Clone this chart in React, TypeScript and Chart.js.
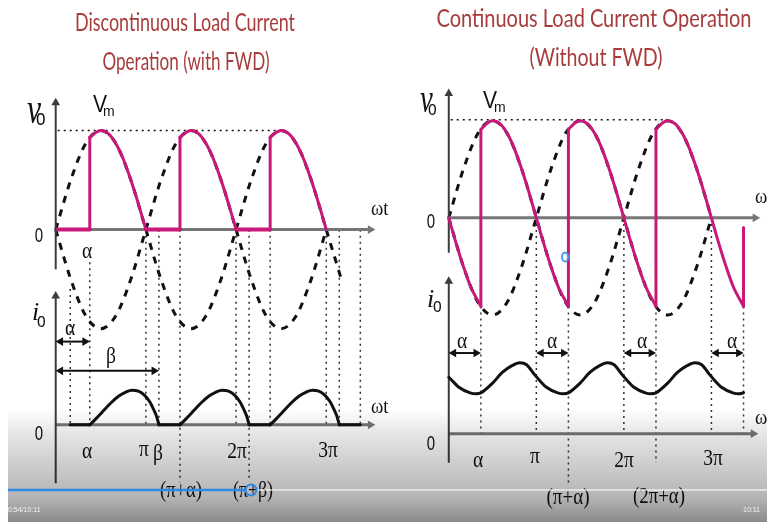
import React, { useEffect, useRef } from "react";
import { Chart, registerables } from "chart.js";
Chart.register(...registerables);

// ================= DATA (angles in degrees of ωt, values per-unit) =================
// ---- Left panel: discontinuous load current (with FWD)
const L_SUPPLY_DEG = [0, 30, 60, 90, 120, 150, 180, 210, 240, 270, 300, 330, 360, 390, 420, 450, 480, 510, 540, 570];
const L_SUPPLY_POS = [0, 0.5, 0.87, 1, 0.87, 0.5, 0, -0.5, -0.87, -1, -0.87, -0.5, 0, 0.5, 0.87, 1, 0.87, 0.5, 0, -0.5];
const L_SUPPLY_NEG = [0, -0.5, -0.87, -1, -0.87, -0.5, 0, 0.5, 0.87, 1, 0.87, 0.5, 0, -0.5, -0.87, -1, -0.87, -0.5, 0];
const L_ALPHA = 68;
const L_PULSE_OFFSETS = [0, 180, 360];
const L_PULSE_DEG = [68, 80, 90, 105, 120, 135, 150, 165, 180];
const L_PULSE_V = [0.93, 0.98, 1, 0.97, 0.87, 0.71, 0.5, 0.26, 0];
const L_VZERO_START = [5, 180, 360];
const L_VZERO_END = [68, 248, 428];
const L_HUMP_OFFSETS = [0, 180, 360];
const L_HUMP_DEG = [68, 80, 93, 110, 126, 140, 152, 165, 177, 188, 195, 201, 206];
const L_HUMP_I = [0, 0.06, 0.13, 0.22, 0.29, 0.33, 0.35, 0.34, 0.3, 0.23, 0.16, 0.09, 0];
const L_IZERO_START = [29, 206, 386, 566];
const L_IZERO_END = [68, 248, 428, 608];
const L_GUIDE_DEG = [29, 68, 180, 206, 248, 360, 386, 428, 540, 566, 608];
const L_GUIDE_TOP = [1.37, 1.64, 1.97, 1.97, 1.97, 1.97, 1.97, 1.97, 1.97, 1.97, 1.97];
const L_GUIDE_BOTTOM = [0, 0, 0, 0, -0.58, 0, -0.54, 0, 0, 0, 0];
const L_ARROW_FROM = [0, 0];
const L_ARROW_TO = [68, 206];
const L_ARROW_I = [0.84, 0.545];

// ---- Right panel: continuous load current (without FWD)
const R_SUPPLY_DEG = [0, 30, 60, 90, 120, 150, 180, 210, 240, 270, 300, 330, 360, 390, 420, 450, 480, 510, 540];
const R_SUPPLY_POS = [0, 0.5, 0.87, 1, 0.87, 0.5, 0, -0.5, -0.87, -1, -0.87, -0.5, 0, 0.5, 0.87, 1, 0.87, 0.5, 0];
const R_SUPPLY_NEG = [0, -0.5, -0.87, -1, -0.87, -0.5, 0, 0.5, 0.87, 1, 0.87, 0.5, 0, -0.5, -0.87, -1, -0.87, -0.5, 0];
const R_LEAD_DEG = [0, 15, 30, 45, 66];
const R_LEAD_V = [0, -0.26, -0.5, -0.71, -0.91];
const R_PULSE_OFFSETS = [0, 180, 360];
const R_PULSE_DEG = [66, 80, 90, 105, 120, 135, 150, 165, 180, 195, 210, 225, 246];
const R_PULSE_V = [0.91, 0.98, 1, 0.97, 0.87, 0.71, 0.5, 0.26, 0, -0.26, -0.5, -0.71, -0.91];
const R_JUMP_DEG = [66, 246, 426, 606];
const R_JUMP_FROM = [-0.91, -0.91, -0.91, -0.91];
const R_JUMP_TO = [0.91, 0.91, 0.91, -0.1];
const R_CURRENT_DEG = [0, 10, 20, 44, 56, 66, 90, 110, 130, 146, 160, 176, 190, 200, 224, 236, 246, 270, 290, 310, 326, 340, 356, 370, 380, 404, 416, 426, 450, 470, 490, 506, 520, 536, 550, 560, 584, 596, 606];
const R_CURRENT_I = [0.58, 0.53, 0.48, 0.42, 0.41, 0.42, 0.52, 0.63, 0.7, 0.73, 0.71, 0.61, 0.53, 0.48, 0.42, 0.41, 0.42, 0.52, 0.63, 0.7, 0.73, 0.71, 0.61, 0.53, 0.48, 0.42, 0.41, 0.42, 0.52, 0.63, 0.7, 0.73, 0.71, 0.61, 0.53, 0.48, 0.42, 0.41, 0.42];
const R_GUIDE_DEG = [66, 180, 246, 360, 426, 540, 606];
const R_GUIDE_TOP = [1.31, 2.16, 1.31, 2.16, 1.31, 2.16, 1.31];
const R_GUIDE_BOTTOM = [0, 0, -0.505, 0, -0.3, 0, 0];
const R_ARROW_FROM = [0, 180, 360, 540];
const R_ARROW_TO = [66, 246, 426, 606];
const R_ARROW_I = [0.83, 0.83, 0.83, 0.83];

// ================= STYLE / LAYOUT =================
const MAGENTA = "#c8187a";
const INK = "#111";
const AXIS = "#3c3c3c";
const ZERO = "#767676";
const TITLE = "#a83c3c";

type Panel = {
  left: number; width: number;
  x0: number; pxPerDeg: number;
  vZero: number; vPx: number;
  iZero: number; iPx: number;
};
const LP: Panel = { left: 0, width: 400, x0: 52, pxPerDeg: 92.5 / 180, vZero: 229, vPx: 101, iZero: 428, iPx: 101 };
const RP: Panel = { left: 400, width: 367, x0: 45, pxPerDeg: 90 / 180, vZero: 217, vPx: 99, iZero: 437, iPx: 99 };
const H = 522;

const pts = (xs: number[], ys: number[]) => xs.map((x, i) => ({ x, y: ys[i] }));
const shift = (xs: number[], d: number) => xs.map((x) => x + d);

function curve(data: any[], axis: string, color: string, width: number, order: number, extra: any = {}) {
  return {
    data, yAxisID: axis, showLine: true, pointRadius: 0, pointHoverRadius: 0,
    borderColor: color, backgroundColor: color, borderWidth: width, fill: false,
    borderCapStyle: "round", borderJoinStyle: "round", order, ...extra,
  };
}
const smooth = { cubicInterpolationMode: "monotone" };
const dashed = { borderDash: [7, 7], borderCapStyle: "butt", cubicInterpolationMode: "monotone" };
const dotted = { borderDash: [2, 4], borderCapStyle: "butt" };

function arrowLine(a: any, b: any, axis: string, color: string, width: number, rot: number, order: number) {
  return curve([a, b], axis, color, width, order, {
    borderCapStyle: "butt",
    pointRadius: [0, 5], pointStyle: "triangle", pointRotation: [0, rot],
    pointBackgroundColor: color, pointBorderColor: color, pointBorderWidth: 0,
  });
}
function doubleArrow(x1: number, x2: number, y: number, color: string, order: number) {
  return curve([{ x: x1, y }, { x: x2, y }], "yI", color, 2, order, {
    borderCapStyle: "butt",
    pointRadius: [5, 5], pointStyle: "triangle", pointRotation: [-90, 90],
    pointBackgroundColor: color, pointBorderColor: color, pointBorderWidth: 0,
  });
}

function leftDatasets(p: Panel) {
  const d: any[] = [];
  const inset = 5 / p.pxPerDeg;
  d.push(arrowLine({ x: 0, y: -0.4 }, { x: 0, y: 1.28 }, "y", AXIS, 2, 0, 4));
  d.push(arrowLine({ x: 0, y: 0 }, { x: 628, y: 0 }, "y", ZERO, 3, 90, 4));
  d.push(arrowLine({ x: 0, y: -0.59 }, { x: 0, y: 1.3 }, "yI", AXIS, 2, 0, 4));
  d.push(arrowLine({ x: 0, y: 0 }, { x: 628, y: 0 }, "yI", ZERO, 3, 90, 4));
  d.push(curve([{ x: 4, y: 1 }, { x: 453, y: 1 }], "y", INK, 1.5, 6, dotted));
  L_GUIDE_DEG.forEach((g, i) =>
    d.push(curve([{ x: g, y: L_GUIDE_TOP[i] }, { x: g, y: L_GUIDE_BOTTOM[i] }], "yI", "#333", 1.5, 7, dotted)));
  d.push(curve(pts(L_SUPPLY_DEG, L_SUPPLY_POS), "y", INK, 3, 5, dashed));
  d.push(curve(pts(L_SUPPLY_DEG.slice(0, L_SUPPLY_NEG.length), L_SUPPLY_NEG), "y", INK, 3, 5, dashed));
  L_PULSE_OFFSETS.forEach((off) => {
    d.push(curve(pts(shift(L_PULSE_DEG, off), L_PULSE_V), "y", MAGENTA, 3, 1, smooth));
    d.push(curve([{ x: L_ALPHA + off, y: 0 }, { x: L_ALPHA + off, y: L_PULSE_V[0] }], "y", MAGENTA, 3, 1));
  });
  L_VZERO_START.forEach((s, i) => d.push(curve([{ x: s, y: 0 }, { x: L_VZERO_END[i], y: 0 }], "y", MAGENTA, 4, 1)));
  L_HUMP_OFFSETS.forEach((off) => d.push(curve(pts(shift(L_HUMP_DEG, off), L_HUMP_I), "yI", INK, 3, 2, smooth)));
  L_IZERO_START.forEach((s, i) => d.push(curve([{ x: s, y: 0 }, { x: L_IZERO_END[i], y: 0 }], "yI", INK, 3, 2)));
  L_ARROW_FROM.forEach((a, i) => d.push(doubleArrow(a + inset, L_ARROW_TO[i] - inset, L_ARROW_I[i], INK, 3)));
  return d;
}

function rightDatasets(p: Panel) {
  const d: any[] = [];
  const inset = 5 / p.pxPerDeg;
  d.push(arrowLine({ x: 0, y: -0.36 }, { x: 0, y: 1.28 }, "y", AXIS, 2, 0, 4));
  d.push(arrowLine({ x: 0, y: 0 }, { x: 630, y: 0 }, "y", ZERO, 3, 90, 4));
  d.push(arrowLine({ x: 0, y: -0.3 }, { x: 0, y: 1.57 }, "yI", AXIS, 2, 0, 4));
  d.push(arrowLine({ x: 0, y: 0 }, { x: 626, y: 0 }, "yI", ZERO, 3, 90, 4));
  d.push(curve([{ x: 4, y: 1.01 }, { x: 450, y: 1.01 }], "y", INK, 1.5, 6, dotted));
  R_GUIDE_DEG.forEach((g, i) =>
    d.push(curve([{ x: g, y: R_GUIDE_TOP[i] }, { x: g, y: R_GUIDE_BOTTOM[i] }], "yI", "#333", 1.5, 7, dotted)));
  d.push(curve(pts(R_SUPPLY_DEG, R_SUPPLY_POS), "y", INK, 3, 5, dashed));
  d.push(curve(pts(R_SUPPLY_DEG, R_SUPPLY_NEG), "y", INK, 3, 5, dashed));
  d.push(curve(pts(R_LEAD_DEG, R_LEAD_V), "y", MAGENTA, 3, 1, smooth));
  R_PULSE_OFFSETS.forEach((off) => d.push(curve(pts(shift(R_PULSE_DEG, off), R_PULSE_V), "y", MAGENTA, 3, 1, smooth)));
  R_JUMP_DEG.forEach((j, i) => d.push(curve([{ x: j, y: R_JUMP_FROM[i] }, { x: j, y: R_JUMP_TO[i] }], "y", MAGENTA, 3, 1)));
  d.push(curve(pts(R_CURRENT_DEG, R_CURRENT_I), "yI", INK, 3, 2, smooth));
  R_ARROW_FROM.forEach((a, i) => d.push(doubleArrow(a + inset, R_ARROW_TO[i] - inset, R_ARROW_I[i], INK, 3)));
  return d;
}

function makeChart(canvas: HTMLCanvasElement, p: Panel, datasets: any[]) {
  const xMin = -p.x0 / p.pxPerDeg;
  const xMax = (p.width - p.x0) / p.pxPerDeg;
  return new Chart(canvas, {
    type: "scatter",
    data: { datasets },
    options: {
      animation: false,
      responsive: false,
      devicePixelRatio: 1,
      events: [],
      layout: { padding: 0 },
      plugins: { legend: { display: false }, tooltip: { enabled: false }, title: { display: false } },
      scales: {
        x: { type: "linear", min: xMin, max: xMax, display: false },
        y: { type: "linear", min: -(H - p.vZero) / p.vPx, max: p.vZero / p.vPx, display: false },
        yI: { type: "linear", min: -(H - p.iZero) / p.iPx, max: p.iZero / p.iPx, display: false },
      },
    } as any,
  });
}

function PanelCanvas({ p, build }: { p: Panel; build: (p: Panel) => any[] }) {
  const ref = useRef<HTMLCanvasElement>(null);
  useEffect(() => {
    const c = makeChart(ref.current!, p, build(p));
    return () => c.destroy();
  }, []);
  return (
    <canvas ref={ref} width={p.width} height={H}
      style={{ position: "absolute", left: p.left, top: 0, width: p.width, height: H, display: "block" }} />
  );
}

// ================= TEXT =================
const FAM: Record<string, string> = {
  serif: "'Liberation Serif', 'DejaVu Serif', serif",
  sans: "'Liberation Sans', Arial, sans-serif",
  title: "Lato, 'Open Sans', sans-serif",
};
function T(props: { x: number; y: number; s: number; f?: string; it?: boolean; sx?: number; a?: string; w?: number; c?: string; children: any }) {
  const { x, y, s, f = "serif", it = false, sx = 1, a = "middle", w, c = INK, children } = props;
  return (
    <text x={0} y={0} transform={`translate(${x},${y}) scale(${sx},1)`} textAnchor={a as any}
      fontFamily={FAM[f]} fontSize={s} fontStyle={it ? "italic" : "normal"} fill={c}
      {...(w ? { textLength: w, lengthAdjust: "spacingAndGlyphs" } : {})}>
      {children}
    </text>
  );
}

function Texts() {
  const M = { s: 23, sx: 0.85 };
  return (
    <svg width={767} height={H} style={{ position: "absolute", left: 0, top: 0, pointerEvents: "none" }}>
      <defs>
        <linearGradient id="vg" x1="0" y1="0" x2="0" y2="1">
          <stop offset="0" stopColor="#000" stopOpacity="0" />
          <stop offset="0.25" stopColor="#000" stopOpacity="0.11" />
          <stop offset="0.8" stopColor="#000" stopOpacity="0.3" />
          <stop offset="1" stopColor="#000" stopOpacity="0.46" />
        </linearGradient>
      </defs>
      <T x={185} y={31} s={25} f="title" w={220} c={TITLE}>Discontinuous Load Current</T>
      <T x={186} y={70} s={25} f="title" w={167} c={TITLE}>Operation (with FWD)</T>
      <T x={594} y={27} s={25} f="title" w={315} c={TITLE}>Continuous Load Current Operation</T>
      <T x={596} y={66} s={25} f="title" w={133} c={TITLE}>(Without FWD)</T>

      <T x={27} y={123} s={44} it sx={0.72} a="start">v</T>
      <T x={36} y={125} s={22} f="sans" sx={0.78} a="start">o</T>
      <T x={93} y={112} s={24} f="sans" sx={0.88} a="start">V</T>
      <T x={103} y={116} s={14} f="sans" a="start">m</T>
      <T x={39} y={242} s={20} f="sans" sx={0.75}>0</T>
      <T x={39} y={440} s={20} f="sans" sx={0.75}>0</T>
      <T x={32} y={320} s={26} it a="start">i</T>
      <T x={37} y={327} s={20} f="sans" sx={0.78} a="start">o</T>
      <T x={371} y={215} s={22} sx={0.85} a="start">ωt</T>
      <T x={371} y={413} s={22} sx={0.85} a="start">ωt</T>

      <T x={87} y={258} {...M}>α</T>
      <T x={70} y={335} {...M}>α</T>
      <T x={111} y={363} {...M}>β</T>
      <T x={87} y={458} {...M}>α</T>
      <T x={144} y={456} {...M}>π</T>
      <T x={158} y={460} {...M}>β</T>
      <T x={237} y={458} {...M}>2π</T>
      <T x={328} y={457} {...M}>3π</T>
      <T x={181} y={497} s={23} w={42}>(π+α)</T>
      <T x={253} y={497} s={23} w={40}>(π+β)</T>

      <T x={420} y={112} s={40} it sx={0.72} a="start">v</T>
      <T x={428} y={115} s={20} f="sans" sx={0.78} a="start">o</T>
      <T x={483} y={108} s={24} f="sans" sx={0.88} a="start">V</T>
      <T x={494} y={112} s={14} f="sans" a="start">m</T>
      <T x={431} y={228} s={20} f="sans" sx={0.75}>0</T>
      <T x={431} y={450} s={20} f="sans" sx={0.75}>0</T>
      <T x={427} y={307} s={26} it a="start">i</T>
      <T x={433} y={312} s={20} f="sans" sx={0.78} a="start">o</T>
      <T x={755} y={203} s={22} sx={0.85} a="start">ωt</T>
      <T x={755} y={424} s={22} sx={0.85} a="start">ωt</T>

      <T x={462} y={348} {...M}>α</T>
      <T x={552} y={348} {...M}>α</T>
      <T x={642} y={348} {...M}>α</T>
      <T x={732} y={348} {...M}>α</T>
      <T x={478} y={467} {...M}>α</T>
      <T x={535} y={463} {...M}>π</T>
      <T x={624} y={467} {...M}>2π</T>
      <T x={713} y={465} {...M}>3π</T>
      <T x={568} y={504} s={23} w={43}>(π+α)</T>
      <T x={659} y={503} s={23} w={52}>(2π+α)</T>

      <rect x={8} y={408} width={759} height={114} fill="url(#vg)" />
      <line x1={256} y1={490} x2={767} y2={490} stroke="rgba(255,255,255,0.55)" strokeWidth={2} />
      <line x1={8} y1={490} x2={246} y2={490} stroke="#2d8ae6" strokeWidth={2.5} />
      <circle cx={251} cy={490} r={5.5} fill="none" stroke="#2d8ae6" strokeWidth={2} />
      <ellipse cx={565} cy={257} rx={3} ry={4.5} fill="none" stroke="#4aa3ee" strokeWidth={2} />
      <text x={8} y={512} fontSize={7} fontFamily={FAM.sans} fill="#f2f2f2">0:54/10:11</text>
      <text x={743} y={512} fontSize={7} fontFamily={FAM.sans} fill="#f2f2f2">10:11</text>
    </svg>
  );
}

export default function App() {
  return (
    <div style={{ position: "fixed", left: 0, top: 0, width: 767, height: H, overflow: "hidden", background: "#fff" }}>
      <PanelCanvas p={LP} build={leftDatasets} />
      <PanelCanvas p={RP} build={rightDatasets} />
      <Texts />
    </div>
  );
}
